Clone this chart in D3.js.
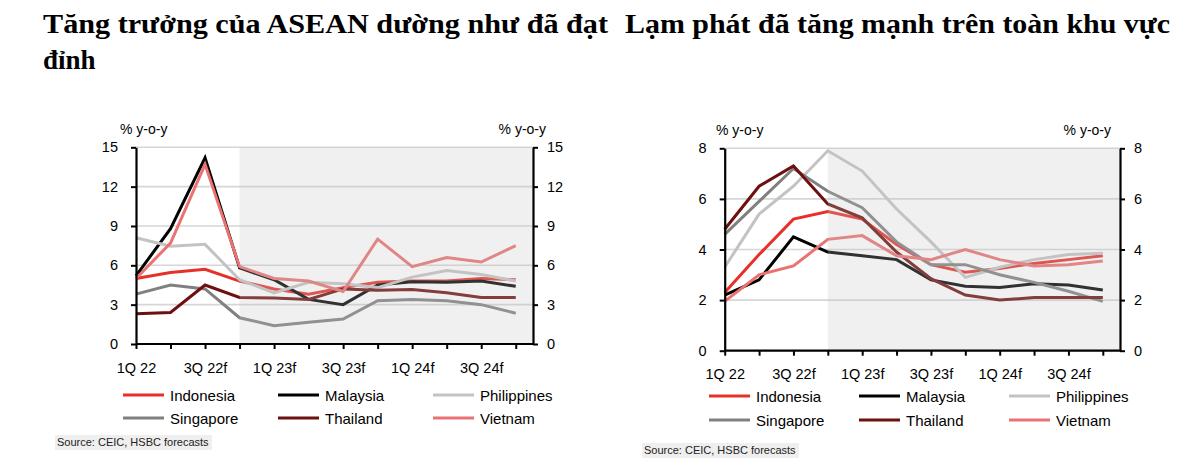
<!DOCTYPE html>
<html><head><meta charset="utf-8">
<script src="https://cdn.jsdelivr.net/npm/d3@7"></script>
<style>
body{margin:0;background:#fff;}
svg text{font-family:"Liberation Sans",Arial,sans-serif;}
</style></head>
<body><svg id="c" width="1200" height="470"></svg>
<script>
const quarters = ["1Q 22","2Q 22","3Q 22f","4Q 22f","1Q 23f","2Q 23f","3Q 23f","4Q 23f","1Q 24f","2Q 24f","3Q 24f","4Q 24f"];
const countries = ["Indonesia","Malaysia","Philippines","Singapore","Thailand","Vietnam"];
const colors = ["#e8302a","#000000","#c3c3c3","#808080","#6e1010","#ea7272"];
// GDP growth (% y-o-y)
const gIndonesia  = [5.0, 5.45, 5.7, 4.8, 4.2, 3.8, 4.3, 4.7, 4.8, 4.8, 5.0, 4.9];
const gMalaysia   = [5.2, 8.8, 14.2, 5.8, 4.9, 3.4, 3.0, 4.5, 4.75, 4.7, 4.8, 4.4];
const gPhilippines= [8.1, 7.45, 7.6, 4.9, 3.9, 4.7, 4.6, 4.3, 5.1, 5.6, 5.3, 4.8];
const gSingapore  = [3.8, 4.5, 4.2, 2.0, 1.4, 1.65, 1.9, 3.3, 3.4, 3.3, 3.0, 2.35];
const gThailand   = [2.3, 2.4, 4.5, 3.55, 3.5, 3.4, 4.2, 4.1, 4.15, 3.9, 3.55, 3.55];
const gVietnam    = [5.0, 7.7, 13.7, 5.9, 5.0, 4.8, 4.0, 8.0, 5.9, 6.6, 6.25, 7.5];
// CPI inflation (% y-o-y)
const iIndonesia  = [2.3, 3.8, 5.2, 5.5, 5.2, 4.2, 3.4, 3.1, 3.25, 3.45, 3.6, 3.75];
const iMalaysia   = [2.2, 2.8, 4.5, 3.9, 3.75, 3.6, 2.8, 2.55, 2.5, 2.65, 2.6, 2.4];
const iPhilippines= [3.3, 5.4, 6.5, 7.9, 7.1, 5.6, 4.3, 2.9, 3.3, 3.6, 3.8, 3.85];
const iSingapore  = [4.6, 5.9, 7.2, 6.3, 5.65, 4.3, 3.4, 3.4, 3.0, 2.7, 2.35, 1.95];
const iThailand   = [4.8, 6.5, 7.3, 5.8, 5.25, 3.9, 2.85, 2.2, 2.0, 2.1, 2.1, 2.1];
const iVietnam    = [1.95, 3.0, 3.35, 4.4, 4.55, 3.75, 3.6, 4.0, 3.6, 3.35, 3.4, 3.55];
const gTicks = [0,3,6,9,12,15];
const iTicks = [0,2,4,6,8];
const shownLabels = ["1Q 22","3Q 22f","1Q 23f","3Q 23f","1Q 24f","3Q 24f"];
const forecastStart = "4Q 22f";

const svg = d3.select("#c");

// Titles
const T = svg.append("g").attr("font-weight","bold").attr("font-size",27).attr("fill","#000");
T.append("text").attr("x",43).attr("y",33).attr("textLength",565).attr("lengthAdjust","spacingAndGlyphs").style("font-family","'Liberation Serif',serif").text("Tăng trưởng của ASEAN dường như đã đạt");
T.append("text").attr("x",43).attr("y",69).style("font-family","'Liberation Serif',serif").text("đỉnh");
T.append("text").attr("x",625).attr("y",33).attr("textLength",545).attr("lengthAdjust","spacingAndGlyphs").style("font-family","'Liberation Serif',serif").text("Lạm phát đã tăng mạnh trên toàn khu vực");

function chart(cfg){
  const g = svg.append("g");
  const x = d3.scaleLinear().domain([0, quarters.length - 0.5]).range([cfg.left, cfg.right]);
  const y = d3.scaleLinear().domain([0, cfg.max]).range([cfg.bottom, cfg.top]);
  const fi = quarters.indexOf(forecastStart);
  // gridlines
  g.append("g").selectAll("line").data(cfg.ticks.filter(t=>t>0)).join("line")
    .attr("x1",cfg.left).attr("x2",cfg.right).attr("y1",d=>y(d)).attr("y2",d=>y(d))
    .attr("stroke","#d6d6d6").attr("stroke-width",1.6);
  // lines
  const line = d3.line().x((d,i)=>x(i)).y(d=>y(d));
  cfg.series.forEach((s,k)=>{
    g.append("path").datum(s).attr("d",line).attr("fill","none")
      .attr("stroke",colors[k]).attr("stroke-width",3).attr("stroke-linejoin","miter");
  });
  // forecast shading overlay
  g.append("rect").attr("x",x(fi)).attr("y",y(cfg.max)).attr("width",cfg.right-x(fi)).attr("height",cfg.bottom-y(cfg.max))
    .attr("fill","rgb(196,196,196)").attr("fill-opacity",0.25);
  // axes
  const axL = g.append("g").attr("transform",`translate(${cfg.left},0)`)
    .call(d3.axisLeft(y).tickValues(cfg.ticks).tickSize(5).tickSizeOuter(0).tickPadding(cfg.padL));
  const axR = g.append("g").attr("transform",`translate(${cfg.right},0)`)
    .call(d3.axisRight(y).tickValues(cfg.ticks).tickSize(5).tickSizeOuter(0).tickPadding(cfg.padR));
  const axB = g.append("g").attr("transform",`translate(0,${cfg.bottom})`)
    .call(d3.axisBottom(x).tickValues(d3.range(quarters.length)).tickSize(5).tickSizeOuter(0)
      .tickFormat(i=>shownLabels.includes(quarters[i])?quarters[i]:"").tickPadding(cfg.padB));
  axB.select(".domain").attr("d",`M${cfg.left},0H${cfg.right}`);
  [axL,axR,axB].forEach(a=>{
    a.selectAll(".domain").attr("stroke","#000").attr("stroke-width",2.2);
    a.selectAll(".tick line").attr("stroke","#000").attr("stroke-width",2);
    a.selectAll("text").attr("font-size",14.5).attr("fill","#000").style("font-family","'Liberation Sans',Arial,sans-serif");
  });
  g.append("text").attr("x",cfg.unitL).attr("y",cfg.top-13).attr("font-size",14).text("% y-o-y");
  g.append("text").attr("x",cfg.unitR).attr("y",cfg.top-13).attr("font-size",14).attr("text-anchor","end").text("% y-o-y");
  // legend
  const lg = g.append("g");
  countries.forEach((c,k)=>{
    const col = k%3, row = Math.floor(k/3);
    const lx = cfg.legX[col], ly = cfg.legY[row];
    lg.append("line").attr("x1",lx).attr("x2",lx+41).attr("y1",ly).attr("y2",ly)
      .attr("stroke",colors[k]).attr("stroke-width",3.2);
    lg.append("text").attr("x",lx+47).attr("y",ly+5.5).attr("font-size",15).text(c);
  });
  // source
  g.append("rect").attr("x",cfg.srcX-2).attr("y",cfg.srcY-11).attr("width",157).attr("height",15).attr("fill","#efefef");
  g.append("text").attr("x",cfg.srcX).attr("y",cfg.srcY).attr("font-size",11).attr("fill","#222").text("Source: CEIC, HSBC forecasts");
}

chart({left:136,right:533,top:147.3,bottom:344,max:15,ticks:gTicks,
  series:[gIndonesia,gMalaysia,gPhilippines,gSingapore,gThailand,gVietnam],
  padL:13,padR:9,padB:14,unitL:120,unitR:546,
  legX:[123,278,433],legY:[395,418],srcX:57,srcY:446});
chart({left:724.7,right:1120,top:148.3,bottom:350.7,max:8,ticks:iTicks,
  series:[iIndonesia,iMalaysia,iPhilippines,iSingapore,iThailand,iVietnam],
  padL:13,padR:9,padB:13,unitL:716,unitR:1111,
  legX:[709,859,1009],legY:[396,420],srcX:644,srcY:454});
</script></body></html>
